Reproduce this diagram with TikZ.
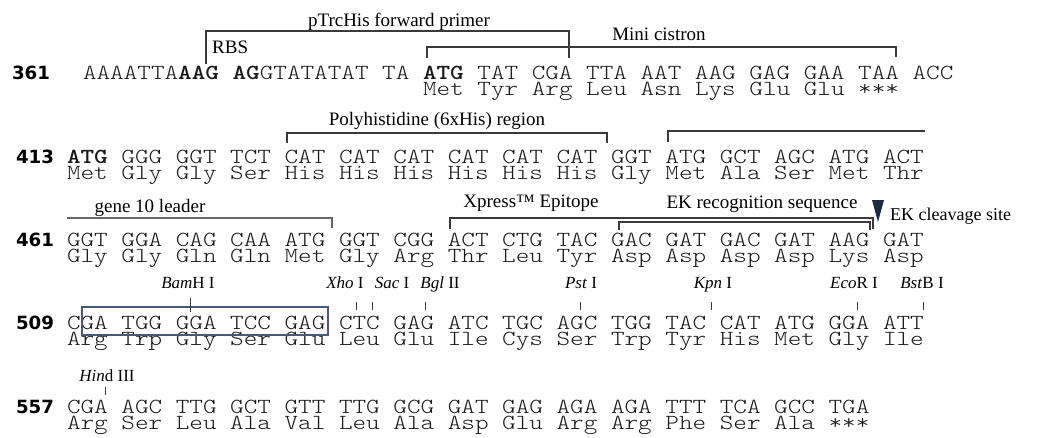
\documentclass[tikz,border=0pt]{standalone}
\usepackage{graphicx}
\usepackage{fontspec}
\setmainfont{Liberation Serif}
\newfontfamily\numfont{DejaVu Sans}

\definecolor{brk}{HTML}{3A3A3A}
\definecolor{boxline}{HTML}{4A5878}
\definecolor{cleave}{HTML}{1C2A48}

% typewriter sequence text: LM Mono Light, widened to a 13.6pt pitch
\newcommand\seqtext[1]{\scalebox{1.2049}[1]{\ttfamily\fontseries{l}\fontsize{21.5}{21.5}\selectfont #1}}
\newcommand\bb[1]{{\fontseries{b}\selectfont #1}}

\tikzset{
  seq/.style={anchor=base west, inner sep=0pt, outer sep=0pt, text=black!90},
  num/.style={anchor=base east, inner sep=0pt, outer sep=0pt,
    font=\numfont\bfseries\fontsize{18.2}{18.2}\selectfont},
  lbl/.style={anchor=base, inner sep=0pt, outer sep=0pt,
    font=\fontsize{19}{19}\selectfont},
  enz/.style={anchor=base, inner sep=0pt, outer sep=0pt,
    font=\fontsize{17}{17}\selectfont},
  bracket/.style={draw=brk, line width=1.1pt},
  cut/.style={draw=brk, line width=0.9pt},
}

\begin{document}
\begin{tikzpicture}[x=1pt, y=-1pt]
\useasboundingbox (0,0) rectangle (1056,437);

% ---------------- line 361 ----------------
\node[num] (n361) at (50,79) {361};
\node[seq] (s361) at (83,79)
  {\seqtext{AAAATTA\bb{AAG AG}GTATATAT TA \bb{ATG} TAT CGA TTA AAT AAG GAG GAA TAA ACC}};
\node[seq] (a361) at ({83+25*13.6},95) {\seqtext{Met Tyr Arg Leu Asn Lys Glu Glu ***}};

\node[lbl] (primer) at (399,26) {pTrcHis forward primer};
\coordinate (prL) at (206,31);
\coordinate (prR) at (569,31);
\draw[bracket] ([yshift=-33pt]prL) -- (prL) -- (prR) -- ([yshift=-27pt]prR);
\node[anchor=base west, inner sep=0pt, font=\fontsize{19}{19}\selectfont] (rbs) at (212,53) {RBS};

\node[lbl] (mini) at (659,40) {Mini cistron};
\coordinate (miL) at (427,47);
\coordinate (miR) at (896,47);
\draw[bracket] ([yshift=-11pt]miL) -- (miL) -- (miR) -- ([yshift=-10pt]miR);

% ---------------- line 413 ----------------
\node[num] (n413) at (54,163) {413};
\node[seq] (s413) at (67,163)
  {\seqtext{\bb{ATG} GGG GGT TCT CAT CAT CAT CAT CAT CAT GGT ATG GCT AGC ATG ACT}};
\node[seq] (a413) at (67,179)
  {\seqtext{Met Gly Gly Ser His His His His His His Gly Met Ala Ser Met Thr}};

\node[lbl] (his) at (437,125) {Polyhistidine (6xHis) region};
\coordinate (hiL) at (287,133);
\coordinate (hiR) at (607,133);
\draw[bracket] ([yshift=-10pt]hiL) -- (hiL) -- (hiR) -- ([yshift=-10pt]hiR);

\coordinate (g1L) at (668,131);
\coordinate (g1R) at (925,131);
\draw[bracket] ([yshift=-11pt]g1L) -- (g1L) -- (g1R);

% ---------------- line 461 ----------------
\node[num] (n461) at (54,246) {461};
\node[seq] (s461) at (67,246)
  {\seqtext{GGT GGA CAG CAA ATG GGT CGG ACT CTG TAC GAC GAT GAC GAT AAG GAT}};
\node[seq] (a461) at (67,262)
  {\seqtext{Gly Gly Gln Gln Met Gly Arg Thr Leu Tyr Asp Asp Asp Asp Lys Asp}};

\node[lbl] (g10) at (150,212) {gene 10 leader};
\coordinate (g2L) at (67,218);
\coordinate (g2R) at (332,218);
\draw[bracket, draw=black!60, line width=1.6pt] (g2L) -- (g2R) -- ([yshift=-10pt]g2R);

\node[lbl] (xpress) at (531,207) {Xpress™ Epitope};
\coordinate (xpL) at (450,218);
\coordinate (xpR) at (873,218);
\draw[bracket] ([yshift=-11pt]xpL) -- (xpL) -- (xpR) -- ([yshift=-11pt]xpR);

\node[lbl] (ekrec) at (762,208) {EK recognition sequence};
\coordinate (ekL) at (619,222);
\coordinate (ekR) at (870,222);
\draw[bracket] ([yshift=-8pt]ekL) -- (ekL) -- (ekR) -- ([yshift=-8pt]ekR);

\coordinate (tip) at (878,222);
\fill[cleave] (tip) -- ++(-6,-22) -- ++(12,0) -- cycle;
\node[anchor=base west, inner sep=0pt, font=\fontsize{18}{18}\selectfont] (ekcut) at (890,220) {EK cleavage site};

% ---------------- line 509 ----------------
\node[num] (n509) at (54,329) {509};
\node[seq] (s509) at (67,329)
  {\seqtext{CGA TGG GGA TCC GAG CTC GAG ATC TGC AGC TGG TAC CAT ATG GGA ATT}};
\node[seq] (a509) at (67,345)
  {\seqtext{Arg Trp Gly Ser Glu Leu Glu Ile Cys Ser Trp Tyr His Met Gly Ile}};

\draw[boxline, line width=1.1pt] (82,307) rectangle (328,335);

\node[enz] (bam) at (188,288) {\textit{Bam}H I};
\draw[cut] (190,298) -- (190,312);
\node[enz] (xho) at (345,288) {\textit{Xho} I};
\draw[cut] (356,302) -- (356,310);
\node[enz] (sac) at (392,288) {\textit{Sac} I};
\draw[cut] (372,302) -- (372,310);
\node[enz] (bgl) at (440,288) {\textit{Bgl} II};
\draw[cut] (425,302) -- (425,310);
\node[enz] (pst) at (581,288) {\textit{Pst} I};
\draw[cut] (580,302) -- (580,310);
\node[enz] (kpn) at (713,288) {\textit{Kpn} I};
\draw[cut] (711,302) -- (711,310);
\node[enz] (eco) at (854,288) {\textit{Eco}R I};
\draw[cut] (857,302) -- (857,310);
\node[enz] (bst) at (922,288) {\textit{Bst}B I};
\draw[cut] (923,302) -- (923,310);

% ---------------- line 557 ----------------
\node[num] (n557) at (54,413) {557};
\node[seq] (s557) at (67,413)
  {\seqtext{CGA AGC TTG GCT GTT TTG GCG GAT GAG AGA AGA TTT TCA GCC TGA}};
\node[seq] (a557) at (67,429)
  {\seqtext{Arg Ser Leu Ala Val Leu Ala Asp Glu Arg Arg Phe Ser Ala ***}};

\node[enz] (hind) at (107,381) {\textit{Hin}d III};
\draw[cut] (105,387) -- (105,395);
\end{tikzpicture}
\end{document}
